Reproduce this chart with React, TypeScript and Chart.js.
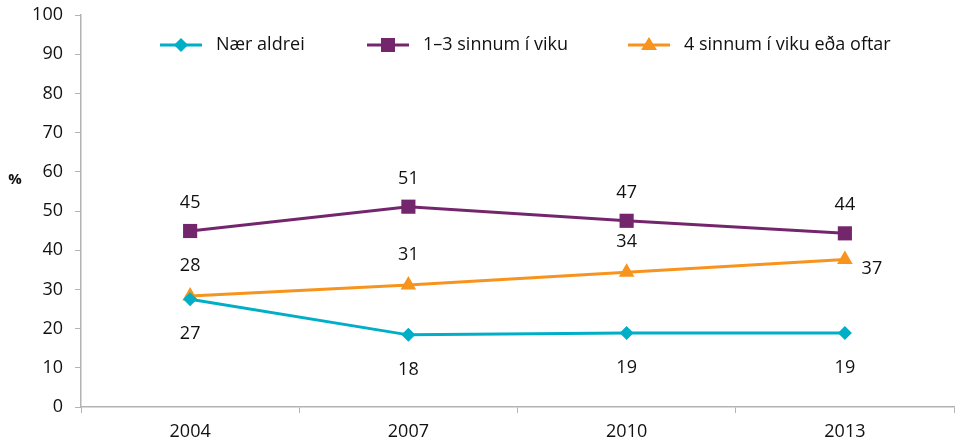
import { useEffect, useRef } from 'react';
import { Chart, registerables } from 'chart.js';

Chart.register(...registerables);

const years = ['2004', '2007', '2010', '2013'];
const seriesNames = ['Nær aldrei', '1–3 sinnum í viku', '4 sinnum í viku eða oftar'];
const naerAldrei = [27.5, 18.4, 18.9, 18.9];
const einTilThrju = [44.9, 51.1, 47.5, 44.3];
const fjorarOftar = [28.3, 31.1, 34.4, 37.6];
const naerAldreiLabels = ['27', '18', '19', '19'];
const einTilThrjuLabels = ['45', '51', '47', '44'];
const fjorarOftarLabels = ['28', '31', '34', '37'];
const yTickStep = 10;
const yMax = 100;
const yAxisTitle = '%';

const CYAN = '#00aec7';
const PURPLE = '#74266d';
const ORANGE = '#f7941d';
const FONT = '"Open Sans", sans-serif';
const TEXT = '#111111';
const AXIS = '#b3b3b3';

type Marker = 'diamond' | 'square' | 'triangle';

function drawMarker(ctx: CanvasRenderingContext2D, kind: Marker, x: number, y: number, color: string) {
  ctx.save();
  ctx.fillStyle = color;
  ctx.beginPath();
  if (kind === 'diamond') {
    ctx.moveTo(x, y - 7);
    ctx.lineTo(x + 7, y);
    ctx.lineTo(x, y + 7);
    ctx.lineTo(x - 7, y);
  } else if (kind === 'square') {
    ctx.rect(x - 7, y - 7, 14, 14);
  } else {
    ctx.moveTo(x, y - 8);
    ctx.lineTo(x + 8, y + 5);
    ctx.lineTo(x - 8, y + 5);
  }
  ctx.closePath();
  ctx.fill();
  ctx.restore();
}

const labelSets = [naerAldreiLabels, einTilThrjuLabels, fjorarOftarLabels];
const markers: Marker[] = ['diamond', 'square', 'triangle'];
const colors = [CYAN, PURPLE, ORANGE];

const zeroPadding = () => ({ left: 0, top: 0, right: 0, bottom: 0 });

const overlayPlugin = {
  id: 'overlay',
  afterDatasetsDraw(chart: any) {
    const ctx: CanvasRenderingContext2D = chart.ctx;
    const yScale = chart.scales.y;
    ctx.save();
    // data labels
    ctx.font = `18px ${FONT}`;
    ctx.fillStyle = TEXT;
    ctx.textBaseline = 'middle';
    ctx.textAlign = 'center';
    chart.data.datasets.forEach((ds: any, di: number) => {
      const meta = chart.getDatasetMeta(di);
      meta.data.forEach((pt: any, i: number) => {
        const txt = labelSets[di][i];
        let x = pt.x;
        let y = pt.y;
        if (di === 0) y += 35;
        else if (di === 1) y -= 28;
        else if (i === meta.data.length - 1) {
          x += 27;
          y += 9;
        } else y -= 30;
        ctx.fillText(txt, x, y);
      });
    });
    // y-axis title
    ctx.font = `bold 15px ${FONT}`;
    ctx.fillText(yAxisTitle, 15, yScale.getPixelForValue(57.5) - 2);
    // legend
    const starts = [160, 367, 628];
    const ly = 45;
    ctx.font = `18px ${FONT}`;
    ctx.textAlign = 'left';
    seriesNames.forEach((name, i) => {
      const sx = starts[i];
      ctx.strokeStyle = colors[i];
      ctx.lineWidth = 3;
      ctx.beginPath();
      ctx.moveTo(sx, ly);
      ctx.lineTo(sx + 42, ly);
      ctx.stroke();
      drawMarker(ctx, markers[i], sx + 21, ly, colors[i]);
      ctx.fillStyle = TEXT;
      ctx.fillText(name, sx + 56, ly);
    });
    ctx.restore();
  },
};

export default function App() {
  const ref = useRef<HTMLCanvasElement | null>(null);
  useEffect(() => {
    if (!ref.current) return;
    const chart = new Chart(ref.current, {
      type: 'line',
      data: {
        labels: years,
        datasets: [
          { label: seriesNames[0], data: naerAldrei, borderColor: CYAN, backgroundColor: CYAN, borderWidth: 3, pointStyle: 'rectRot', pointRadius: 7, pointBorderWidth: 0 },
          { label: seriesNames[1], data: einTilThrju, borderColor: PURPLE, backgroundColor: PURPLE, borderWidth: 3, pointStyle: 'rect', pointRadius: 10, pointBorderWidth: 0 },
          { label: seriesNames[2], data: fjorarOftar, borderColor: ORANGE, backgroundColor: ORANGE, borderWidth: 3, pointStyle: 'triangle', pointRadius: 9, pointBorderWidth: 0 },
        ],
      },
      options: {
        animation: false,
        responsive: true,
        maintainAspectRatio: false,
        layout: { autoPadding: false, padding: { left: 0, right: 3, top: 15, bottom: 0 } },
        plugins: { legend: { display: false }, tooltip: { enabled: false } },
        scales: {
          x: {
            offset: true,
            grid: { offset: true, drawOnChartArea: false, drawTicks: true, tickLength: 6, color: AXIS, lineWidth: 1 },
            border: { color: AXIS, width: 1.5 },
            ticks: { color: TEXT, font: { family: FONT, size: 18 }, padding: 8, maxRotation: 0 },
            afterFit: (s: any) => {
              s.height = 36;
              s.getPadding = zeroPadding;
            },
          },
          y: {
            min: 0,
            max: yMax,
            ticks: { stepSize: yTickStep, color: TEXT, font: { family: FONT, size: 18 }, padding: 12 },
            grid: { drawOnChartArea: false, drawTicks: true, tickLength: 6, color: AXIS, lineWidth: 1 },
            border: { color: AXIS, width: 1.5 },
            afterFit: (s: any) => {
              s.width = 81;
              s.getPadding = zeroPadding;
            },
          },
        },
      },
      plugins: [overlayPlugin],
    });
    return () => chart.destroy();
  }, []);
  return (
    <div style={{ position: 'absolute', left: 0, top: 0, width: 957, height: 443, background: '#fff' }}>
      <canvas ref={ref} />
    </div>
  );
}
